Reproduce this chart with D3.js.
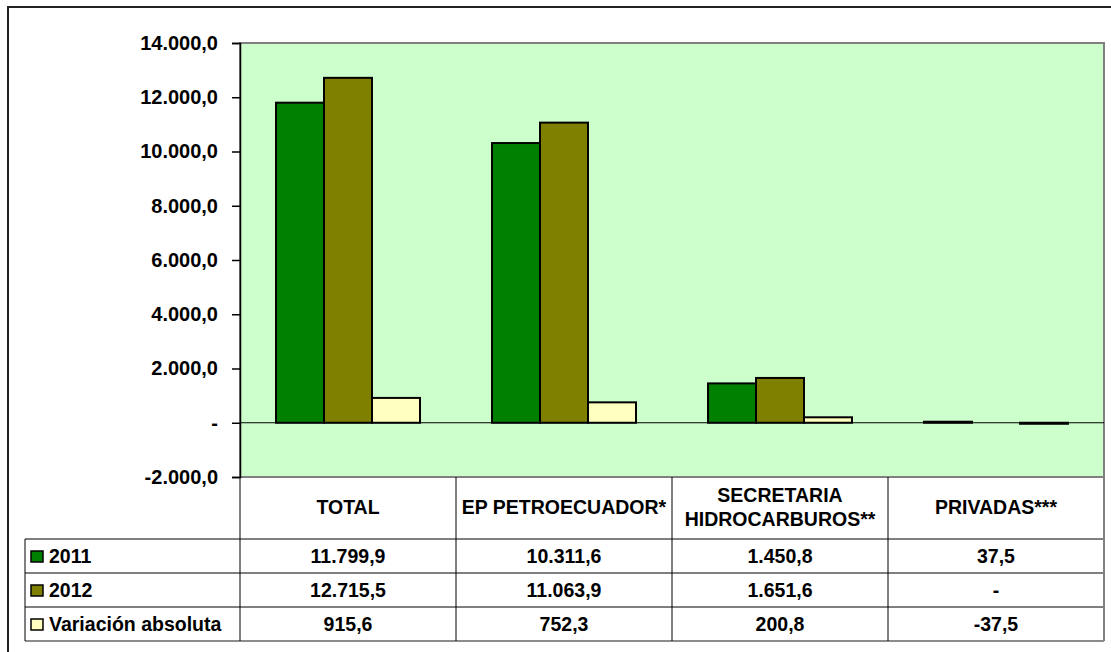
<!DOCTYPE html>
<html>
<head>
<meta charset="utf-8">
<script src="https://cdn.jsdelivr.net/npm/d3@7"></script>
<style>
  body { margin: 0; background: #fff; }
  text { font-family: "Liberation Sans", Arial, sans-serif; font-weight: bold; fill: #000; }
</style>
</head>
<body>
<svg></svg>
<script>
// data
const categories = ["TOTAL", "EP PETROECUADOR*", "SECRETARIA\nHIDROCARBUROS**", "PRIVADAS***"];
const seriesNames = ["2011", "2012", "Variación absoluta"];
const values2011 = [11799.9, 10311.6, 1450.8, 37.5];
const values2012 = [12715.5, 11063.9, 1651.6, 0];
const valuesVar = [915.6, 752.3, 200.8, -37.5];
const yTicks = [-2000, 0, 2000, 4000, 6000, 8000, 10000, 12000, 14000];

const series = [values2011, values2012, valuesVar];
const colors = ["#008000", "#808000", "#ffffc0"];

const svg = d3.select("svg").attr("width", 1111).attr("height", 652);

// spanish number format, plain hyphen for negatives
const locale = d3.formatLocale({ decimal: ",", thousands: ".", grouping: [3], currency: ["", ""], minus: "-" });
const fmt = locale.format(",.1f");
const fmtVal = (v) => (v === 0 ? "-" : fmt(v));

// outer frame
svg.append("rect")
  .attr("x", 8).attr("y", 7)
  .attr("width", 1120).attr("height", 660)
  .attr("fill", "none").attr("stroke", "#222").attr("stroke-width", 2);

// scales
const x = d3.scaleBand().domain(categories).range([240, 1104]);
const xSub = d3.scaleBand().domain(seriesNames).range([0, x.bandwidth()]).paddingOuter(0.75);
const y = d3.scaleLinear().domain([-2000, 14000]).range([477, 43]);

// plot area
svg.append("rect")
  .attr("x", 240).attr("y", y(14000))
  .attr("width", 864).attr("height", y(-2000) - y(14000))
  .attr("fill", "#ccffcc").attr("stroke", "#808080").attr("stroke-width", 2);

// zero line
svg.append("line")
  .attr("x1", 240).attr("x2", 1104)
  .attr("y1", y(0)).attr("y2", y(0))
  .attr("stroke", "#000").attr("stroke-width", 1);

// bars
const groups = svg.selectAll("g.cat")
  .data(categories)
  .enter()
  .append("g")
  .attr("class", "cat")
  .attr("transform", (d) => `translate(${x(d)}, 0)`);

groups.selectAll("rect")
  .data((d, i) => series.map((s, j) => ({ name: seriesNames[j], value: s[i], color: colors[j] })))
  .enter()
  .filter((d) => d.value !== 0)
  .append("rect")
  .attr("x", (d) => xSub(d.name))
  .attr("width", xSub.bandwidth())
  .attr("y", (d) => y(Math.max(0, d.value)))
  .attr("height", (d) => Math.abs(y(d.value) - y(0)))
  .attr("fill", (d) => d.color)
  .attr("stroke", "#000")
  .attr("stroke-width", 2);

// y axis
const yAxis = svg.append("g")
  .attr("transform", "translate(240, 0)")
  .call(d3.axisLeft(y).tickValues(yTicks).tickSize(8).tickPadding(14).tickFormat(fmtVal));
yAxis.select(".domain").attr("stroke", "#000").attr("stroke-width", 1.5);
yAxis.selectAll(".tick line").attr("stroke", "#000").attr("stroke-width", 1.5);
yAxis.selectAll(".tick text")
  .attr("font-family", '"Liberation Sans", Arial, sans-serif')
  .attr("font-size", 20).attr("font-weight", "bold").attr("fill", "#000");

// data table
const table = svg.append("g");
const rowLines = [539, 573, 607, 641];
const tableLeft = 25;
const fs = 19.5;

// header cells
categories.forEach((c, i) => {
  const lines = c.split("\n");
  const t = table.append("text")
    .attr("x", x(c) + x.bandwidth() / 2)
    .attr("text-anchor", "middle")
    .attr("font-size", fs);
  lines.forEach((l, k) => {
    t.append("tspan")
      .attr("x", x(c) + x.bandwidth() / 2)
      .attr("y", 514 - (lines.length - 1) * 12 + k * 24)
      .text(l);
  });
});

// value rows
series.forEach((s, j) => {
  const mid = (rowLines[j] + rowLines[j + 1]) / 2;
  // legend key
  table.append("rect")
    .attr("x", 31).attr("y", mid - 5)
    .attr("width", 12).attr("height", 11)
    .attr("fill", colors[j]).attr("stroke", "#000").attr("stroke-width", 1.5);
  table.append("text")
    .attr("x", 49).attr("y", mid + 7)
    .attr("font-size", fs)
    .text(seriesNames[j]);
  s.forEach((v, i) => {
    table.append("text")
      .attr("x", x(categories[i]) + x.bandwidth() / 2)
      .attr("y", mid + 7)
      .attr("text-anchor", "middle")
      .attr("font-size", fs)
      .text(fmtVal(v));
  });
});

// grid lines of the table
rowLines.slice(0, 3).forEach((ly) => {
  table.append("line")
    .attr("x1", tableLeft).attr("x2", 1104)
    .attr("y1", ly).attr("y2", ly)
    .attr("stroke", "#000").attr("stroke-width", 1);
});
table.append("line")
  .attr("x1", tableLeft).attr("x2", 1104)
  .attr("y1", 641).attr("y2", 641)
  .attr("stroke", "#666").attr("stroke-width", 1.5);
table.append("line")
  .attr("x1", tableLeft).attr("x2", tableLeft)
  .attr("y1", 539).attr("y2", 641)
  .attr("stroke", "#000").attr("stroke-width", 1);
categories.forEach((c) => {
  table.append("line")
    .attr("x1", x(c)).attr("x2", x(c))
    .attr("y1", 477).attr("y2", 641)
    .attr("stroke", "#000").attr("stroke-width", 1);
});
table.append("line")
  .attr("x1", 1104).attr("x2", 1104)
  .attr("y1", 477).attr("y2", 641)
  .attr("stroke", "#808080").attr("stroke-width", 2);
</script>
</body>
</html>
